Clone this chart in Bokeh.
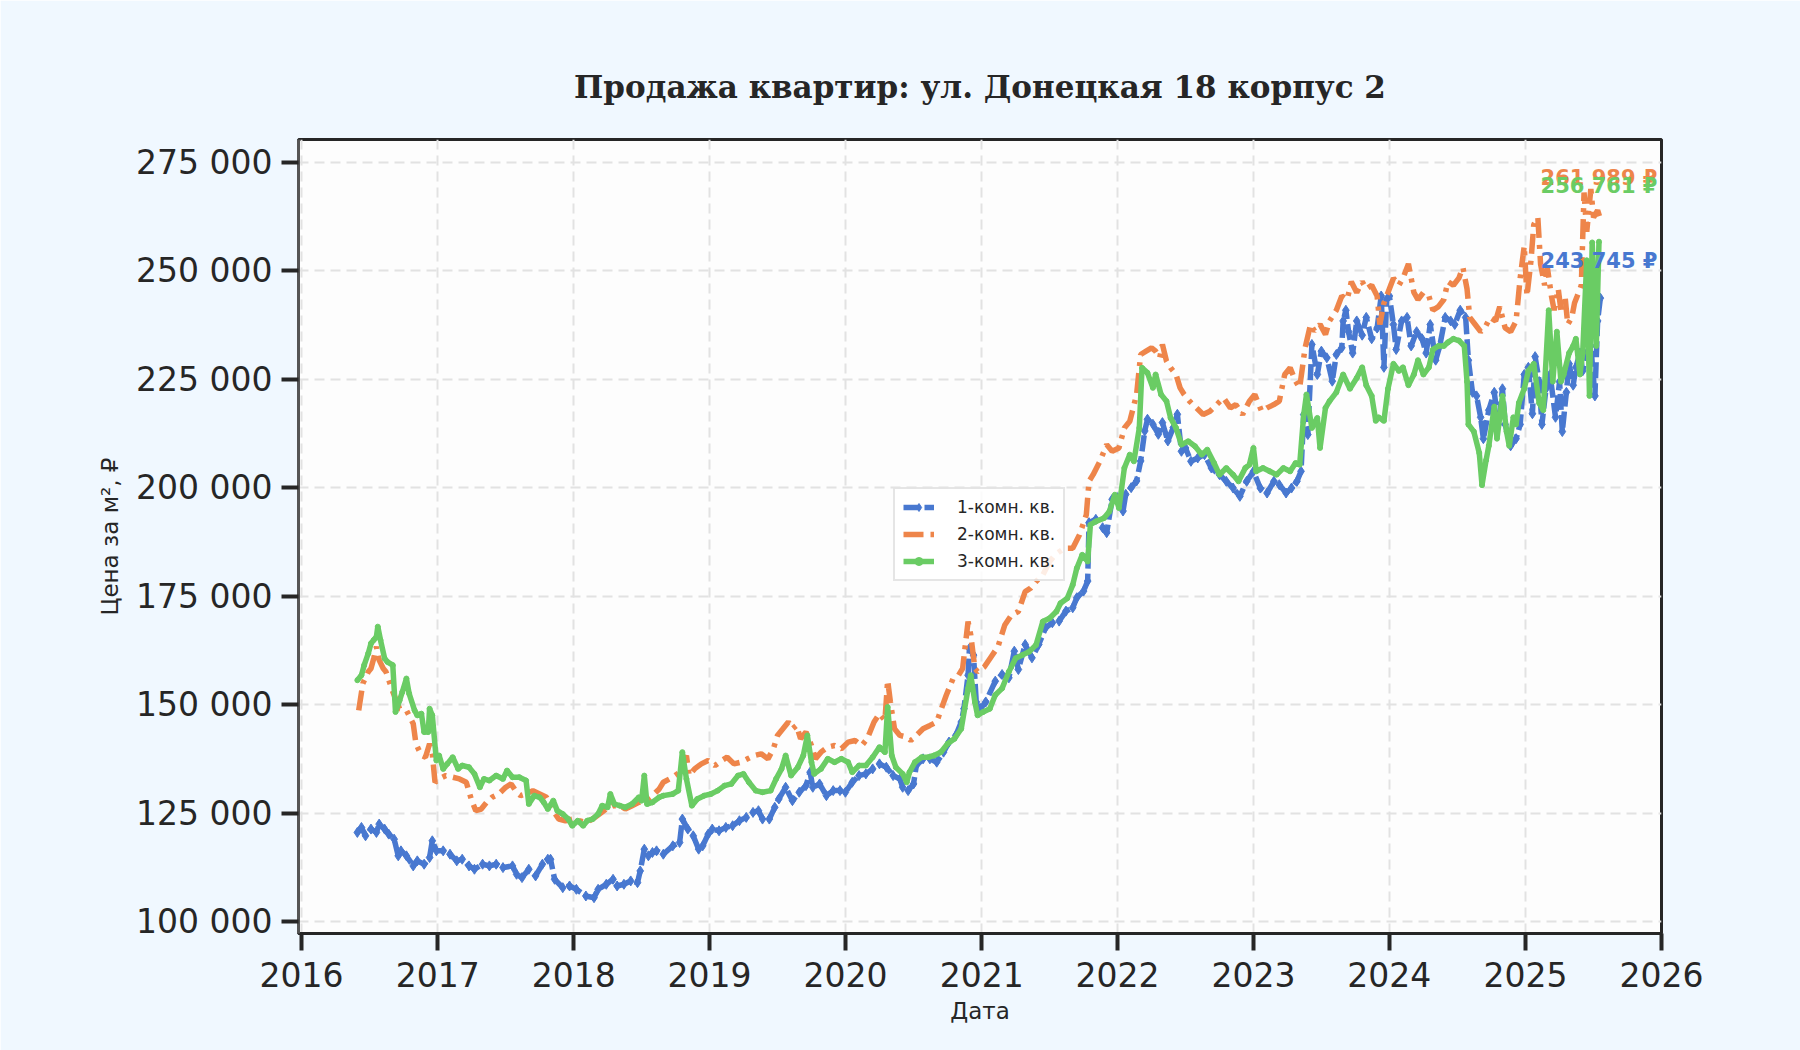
import pandas as pd
from bokeh.plotting import figure
from bokeh.models import (FixedTicker, Range1d, Legend, LegendItem, Label,
                          DatetimeTickFormatter)
from bokeh.embed import file_html
from bokeh.resources import INLINE

# ---------------- data (decimal year, price per m2) ----------------
series_names = ["1-комн. кв.", "2-комн. кв.", "3-комн. кв."]
series_colors = ["#4878D0", "#EE854A", "#6ACC64"]

years_1 = [
    2016.41, 2016.44, 2016.47, 2016.51, 2016.55, 2016.57, 2016.61, 2016.64, 2016.68, 2016.71,
    2016.73, 2016.77, 2016.82, 2016.85, 2016.90, 2016.94, 2016.96, 2016.99, 2017.04, 2017.09,
    2017.14, 2017.18, 2017.23, 2017.27, 2017.33, 2017.38, 2017.43, 2017.48, 2017.55, 2017.58,
    2017.62, 2017.67, 2017.72, 2017.77, 2017.81, 2017.83, 2017.86, 2017.92, 2017.97, 2018.02,
    2018.09, 2018.15, 2018.18, 2018.24, 2018.29, 2018.32, 2018.37, 2018.42, 2018.47, 2018.49,
    2018.52, 2018.55, 2018.58, 2018.61, 2018.66, 2018.73, 2018.78, 2018.80, 2018.84, 2018.88,
    2018.92, 2018.95, 2018.99, 2019.02, 2019.07, 2019.12, 2019.17, 2019.22, 2019.27, 2019.32,
    2019.36, 2019.39, 2019.44, 2019.48, 2019.51, 2019.56, 2019.61, 2019.66, 2019.71, 2019.74,
    2019.76, 2019.81, 2019.86, 2019.91, 2019.96, 2020.00, 2020.05, 2020.10, 2020.15, 2020.20,
    2020.25, 2020.30, 2020.35, 2020.40, 2020.42, 2020.46, 2020.50, 2020.52, 2020.57, 2020.62,
    2020.67, 2020.72, 2020.76, 2020.81, 2020.85, 2020.87, 2020.90, 2020.91, 2020.94, 2020.96,
    2020.99, 2021.03, 2021.10, 2021.15, 2021.20, 2021.24, 2021.27, 2021.32, 2021.37, 2021.42,
    2021.47, 2021.52, 2021.57, 2021.62, 2021.67, 2021.70, 2021.75, 2021.78, 2021.79, 2021.84,
    2021.89, 2021.92, 2021.96, 2022.00, 2022.04, 2022.06, 2022.10, 2022.14, 2022.17, 2022.20,
    2022.22, 2022.26, 2022.30, 2022.33, 2022.37, 2022.41, 2022.44, 2022.47, 2022.50, 2022.54,
    2022.59, 2022.64, 2022.69, 2022.75, 2022.80, 2022.85, 2022.90, 2022.95, 2023.00, 2023.05,
    2023.10, 2023.15, 2023.19, 2023.24, 2023.28, 2023.32, 2023.35, 2023.37, 2023.40, 2023.43,
    2023.47, 2023.50, 2023.54, 2023.58, 2023.61, 2023.65, 2023.66, 2023.68, 2023.70, 2023.73,
    2023.76, 2023.80, 2023.83, 2023.87, 2023.91, 2023.94, 2023.96, 2023.98, 2024.00, 2024.03,
    2024.05, 2024.09, 2024.13, 2024.16, 2024.20, 2024.24, 2024.27, 2024.30, 2024.34, 2024.37,
    2024.41, 2024.45, 2024.48, 2024.52, 2024.56, 2024.58, 2024.61, 2024.64, 2024.67, 2024.69,
    2024.73, 2024.77, 2024.80, 2024.83, 2024.85, 2024.89, 2024.93, 2024.96, 2024.99, 2025.02,
    2025.05, 2025.07, 2025.10, 2025.12, 2025.15, 2025.18, 2025.22, 2025.25, 2025.27, 2025.30,
    2025.32, 2025.35, 2025.37, 2025.40, 2025.42, 2025.45, 2025.48, 2025.51, 2025.53, 2025.55,
]
values_1 = [
    120525, 121680, 119750, 121300, 120525, 122450, 121300, 120140, 118980, 115130,
    116280, 115130, 112810, 113970, 113200, 114740, 118600, 116280, 116280, 115510,
    113970, 114350, 112810, 112040, 113200, 112810, 113200, 112420, 112810, 110880,
    110110, 112040, 110500, 113200, 114350, 114350, 109720, 107790, 108180, 107410,
    105870, 105480, 107410, 108570, 109720, 108180, 108570, 109340, 108950, 111650,
    116670, 115130, 115900, 116280, 115510, 117440, 118210, 123610, 121300, 119750,
    116670, 117440, 120140, 121300, 120910, 121690, 122070, 123230, 124000, 125150,
    125540, 123610, 123610, 126320, 128250, 130940, 127860, 129790, 131320, 134420,
    130940, 131710, 129010, 130170, 130170, 129790, 132100, 133640, 134030, 135180,
    136340, 135570, 133640, 132870, 130940, 130170, 131710, 135960, 137500, 137500,
    136730, 139040, 141360, 142900, 145990, 149070, 156790, 162960, 161420, 150620,
    149070, 150620, 155410, 156950, 156180, 162330, 158100, 163870, 160790, 163870,
    167720, 168870, 169260, 171570, 172340, 174650, 176190, 178500, 191960, 192730,
    190800, 189650, 197340, 197730, 194650, 198500, 200040, 201580, 206190, 213110,
    215810, 214650, 212340, 215040, 210810, 213880, 216960, 208420, 209190, 206110,
    206880, 207650, 204570, 203030, 201490, 199950, 198030, 201490, 203800, 199950,
    198800, 201490, 200720, 198800, 199950, 201490, 203800, 216890, 212270, 233060,
    226130, 231520, 229980, 224590, 230750, 232290, 238480, 240950, 236010, 231070,
    238480, 235190, 239300, 234370, 236840, 244240, 227780, 243420, 244240, 237660,
    231900, 238480, 239300, 232720, 236010, 234370, 231070, 237660, 229430, 232720,
    239300, 238480, 237660, 240950, 239300, 229430, 222020, 221200, 216260, 211330,
    217910, 222020, 214620, 222840, 214620, 209680, 211330, 214620, 226130, 227780,
    217080, 230250, 224490, 214620, 222840, 226130, 216260, 224490, 212970, 222020,
    228600, 223660, 227780, 231070, 226960, 231070, 232720, 221200, 238480, 243745,
]

years_2 = [
    2016.42, 2016.45, 2016.49, 2016.51, 2016.53, 2016.55, 2016.57, 2016.60, 2016.62, 2016.67,
    2016.72, 2016.77, 2016.82, 2016.84, 2016.88, 2016.91, 2016.94, 2016.96, 2016.98, 2017.01,
    2017.06, 2017.11, 2017.16, 2017.21, 2017.25, 2017.28, 2017.32, 2017.36, 2017.40, 2017.45,
    2017.50, 2017.54, 2017.58, 2017.61, 2017.65, 2017.70, 2017.75, 2017.80, 2017.85, 2017.89,
    2017.94, 2017.99, 2018.04, 2018.09, 2018.14, 2018.19, 2018.24, 2018.29, 2018.34, 2018.38,
    2018.43, 2018.48, 2018.53, 2018.58, 2018.63, 2018.66, 2018.73, 2018.78, 2018.83, 2018.85,
    2018.89, 2018.94, 2018.99, 2019.04, 2019.09, 2019.13, 2019.18, 2019.23, 2019.28, 2019.33,
    2019.38, 2019.43, 2019.47, 2019.50, 2019.54, 2019.58, 2019.61, 2019.64, 2019.67, 2019.71,
    2019.75, 2019.78, 2019.82, 2019.87, 2019.92, 2019.97, 2020.02, 2020.07, 2020.12, 2020.16,
    2020.21, 2020.25, 2020.29, 2020.31, 2020.33, 2020.36, 2020.40, 2020.45, 2020.48, 2020.52,
    2020.57, 2020.62, 2020.67, 2020.70, 2020.74, 2020.79, 2020.83, 2020.86, 2020.90, 2020.92,
    2020.95, 2020.97, 2021.02, 2021.07, 2021.12, 2021.17, 2021.22, 2021.27, 2021.32, 2021.36,
    2021.40, 2021.45, 2021.50, 2021.54, 2021.61, 2021.67, 2021.72, 2021.77, 2021.79, 2021.82,
    2021.87, 2021.92, 2021.96, 2022.01, 2022.05, 2022.09, 2022.14, 2022.17, 2022.21, 2022.25,
    2022.28, 2022.31, 2022.33, 2022.36, 2022.39, 2022.43, 2022.46, 2022.49, 2022.53, 2022.58,
    2022.63, 2022.68, 2022.73, 2022.78, 2022.83, 2022.87, 2022.92, 2022.97, 2023.01, 2023.06,
    2023.10, 2023.15, 2023.19, 2023.23, 2023.27, 2023.31, 2023.34, 2023.38, 2023.42, 2023.45,
    2023.49, 2023.53, 2023.56, 2023.61, 2023.65, 2023.69, 2023.72, 2023.76, 2023.80, 2023.83,
    2023.87, 2023.91, 2023.93, 2023.96, 2023.99, 2024.03, 2024.07, 2024.10, 2024.14, 2024.18,
    2024.21, 2024.25, 2024.29, 2024.32, 2024.36, 2024.40, 2024.43, 2024.47, 2024.51, 2024.54,
    2024.57, 2024.59, 2024.63, 2024.67, 2024.70, 2024.74, 2024.78, 2024.81, 2024.85, 2024.89,
    2024.93, 2024.96, 2024.99, 2025.01, 2025.04, 2025.06, 2025.09, 2025.11, 2025.14, 2025.16,
    2025.19, 2025.21, 2025.24, 2025.26, 2025.29, 2025.31, 2025.34, 2025.36, 2025.38, 2025.41,
    2025.43, 2025.45, 2025.48, 2025.50, 2025.53, 2025.55,
]
values_2 = [
    148690, 154860, 157560, 158330, 160650, 163350, 160260, 158330, 157560, 153000,
    149070, 148690, 145600, 140970, 138270, 137880, 140970, 138660, 132100, 132870,
    133640, 133260, 132870, 132100, 127860, 125540, 125930, 127470, 128630, 129400,
    130940, 131710, 129780, 129010, 129400, 130170, 129400, 128630, 125540, 123610,
    123230, 123610, 123230, 122840, 123610, 124770, 125930, 126700, 126700, 125930,
    126700, 127470, 127860, 129010, 130560, 132100, 133260, 134420, 138270, 133640,
    135180, 136340, 137110, 135960, 137110, 137880, 136340, 136730, 137500, 138270,
    138660, 137500, 139810, 142900, 144440, 145990, 144440, 145210, 142130, 143670,
    140580, 137500, 139040, 140200, 140580, 139810, 141360, 141740, 140580, 142130,
    145990, 147920, 146370, 155630, 150620, 144440, 142900, 142520, 141740, 142900,
    144440, 145210, 145990, 148690, 152160, 156020, 156790, 158330, 169140, 166050,
    158330, 157560, 158720, 161060, 163370, 168370, 170690, 171460, 176080, 176850,
    178390, 179930, 183010, 184550, 186090, 186090, 189170, 193790, 201510, 203030,
    206110, 209960, 208420, 209190, 213810, 215350, 221510, 230750, 231520, 232290,
    231520, 229980, 233060, 229210, 227670, 226130, 223050, 221510, 219970, 218430,
    216890, 217660, 219200, 220740, 218430, 219200, 216890, 219970, 221510, 217660,
    218430, 219200, 219970, 226130, 227670, 224590, 223050, 232290, 237680, 236140,
    237680, 235370, 238480, 240950, 244240, 243420, 247530, 245060, 247530, 245880,
    246710, 244240, 237660, 242600, 245060, 248350, 246710, 248350, 251640, 245060,
    243420, 245060, 244240, 240950, 241780, 243420, 247530, 246710, 248350, 250820,
    245880, 239300, 237660, 236010, 236840, 239300, 238480, 241780, 236840, 236010,
    238480, 248350, 255760, 244240, 252470, 260700, 262340, 251640, 246710, 250820,
    244240, 240950, 245880, 240950, 244240, 237660, 239300, 242600, 244240, 246710,
    268110, 259050, 268930, 262340, 263990, 261989,
]

years_3 = [
    2016.41, 2016.44, 2016.46, 2016.49, 2016.51, 2016.53, 2016.55, 2016.56, 2016.58, 2016.61,
    2016.63, 2016.67, 2016.69, 2016.72, 2016.74, 2016.77, 2016.79, 2016.83, 2016.85, 2016.88,
    2016.90, 2016.93, 2016.94, 2016.96, 2016.99, 2017.01, 2017.04, 2017.07, 2017.11, 2017.15,
    2017.18, 2017.23, 2017.27, 2017.31, 2017.34, 2017.38, 2017.43, 2017.48, 2017.51, 2017.55,
    2017.60, 2017.65, 2017.67, 2017.71, 2017.75, 2017.78, 2017.81, 2017.85, 2017.88, 2017.92,
    2017.96, 2017.99, 2018.03, 2018.07, 2018.10, 2018.14, 2018.18, 2018.21, 2018.25, 2018.27,
    2018.30, 2018.34, 2018.38, 2018.43, 2018.48, 2018.50, 2018.52, 2018.54, 2018.58, 2018.63,
    2018.66, 2018.73, 2018.77, 2018.80, 2018.83, 2018.87, 2018.91, 2018.96, 2019.01, 2019.06,
    2019.11, 2019.16, 2019.21, 2019.25, 2019.29, 2019.34, 2019.39, 2019.45, 2019.49, 2019.53,
    2019.56, 2019.60, 2019.65, 2019.69, 2019.72, 2019.75, 2019.77, 2019.82, 2019.87, 2019.92,
    2019.97, 2020.02, 2020.05, 2020.10, 2020.15, 2020.20, 2020.25, 2020.29, 2020.31, 2020.34,
    2020.37, 2020.42, 2020.45, 2020.47, 2020.51, 2020.56, 2020.61, 2020.65, 2020.70, 2020.75,
    2020.80, 2020.85, 2020.90, 2020.92, 2020.95, 2020.97, 2021.01, 2021.06, 2021.10, 2021.15,
    2021.20, 2021.25, 2021.30, 2021.35, 2021.40, 2021.45, 2021.50, 2021.55, 2021.58, 2021.63,
    2021.67, 2021.70, 2021.74, 2021.78, 2021.80, 2021.84, 2021.90, 2021.94, 2021.98, 2022.01,
    2022.05, 2022.09, 2022.12, 2022.16, 2022.18, 2022.22, 2022.26, 2022.28, 2022.32, 2022.36,
    2022.39, 2022.43, 2022.47, 2022.52, 2022.57, 2022.62, 2022.66, 2022.71, 2022.75, 2022.80,
    2022.85, 2022.89, 2022.94, 2022.97, 2023.00, 2023.02, 2023.07, 2023.12, 2023.17, 2023.22,
    2023.27, 2023.31, 2023.34, 2023.37, 2023.39, 2023.43, 2023.47, 2023.49, 2023.53, 2023.56,
    2023.61, 2023.66, 2023.71, 2023.76, 2023.80, 2023.83, 2023.87, 2023.90, 2023.92, 2023.96,
    2023.99, 2024.03, 2024.07, 2024.10, 2024.14, 2024.18, 2024.21, 2024.25, 2024.29, 2024.32,
    2024.36, 2024.40, 2024.43, 2024.47, 2024.51, 2024.55, 2024.57, 2024.58, 2024.62, 2024.66,
    2024.68, 2024.71, 2024.73, 2024.77, 2024.79, 2024.83, 2024.86, 2024.88, 2024.91, 2024.93,
    2024.95, 2024.99, 2025.02, 2025.06, 2025.10, 2025.13, 2025.17, 2025.20, 2025.23, 2025.26,
    2025.28, 2025.32, 2025.35, 2025.37, 2025.40, 2025.42, 2025.45, 2025.47, 2025.49, 2025.52,
    2025.54,
]
values_3 = [
    155630, 156790, 159100, 161810, 164120, 164890, 165660, 167980, 164890, 160650,
    159880, 159100, 148300, 151000, 152930, 156020, 152550, 148690, 147530, 147920,
    143670, 143670, 149070, 147530, 137110, 138270, 135180, 136340, 137880, 135180,
    135960, 135570, 134030, 130940, 132870, 132490, 133640, 132870, 134800, 133260,
    133260, 132490, 127080, 129010, 128630, 127470, 125930, 127860, 125540, 124770,
    123610, 122070, 123230, 122070, 123230, 123610, 124770, 126700, 126320, 129400,
    127080, 126700, 126320, 127080, 128630, 127860, 133640, 127080, 127470, 128630,
    129010, 129400, 130170, 139040, 132870, 126700, 128250, 129010, 129400, 130170,
    131320, 131710, 133640, 134030, 132100, 130170, 129790, 130170, 132870, 135180,
    138270, 133640, 135570, 138270, 142900, 136730, 134030, 135180, 137500, 136730,
    137500, 136730, 134420, 135960, 135960, 137880, 140200, 139040, 149460, 138270,
    135570, 134030, 132100, 134420, 136730, 137880, 137880, 138270, 139040, 140970,
    142130, 144440, 153710, 156790, 150620, 147530, 148300, 149070, 152210, 153750,
    157600, 160680, 161450, 162220, 163760, 169150, 169920, 171460, 173380, 174540,
    177620, 181470, 184550, 183010, 191480, 192250, 193020, 194560, 198410, 195330,
    204570, 207650, 206110, 213810, 227670, 226510, 223050, 226130, 221510, 219970,
    216120, 213810, 209960, 210730, 209570, 207650, 208800, 205720, 203030, 204570,
    203030, 201490, 204570, 205340, 209190, 203800, 204570, 203800, 203030, 204570,
    203800, 205720, 205340, 216890, 221510, 213810, 216120, 209190, 218430, 220000,
    222020, 226130, 222840, 225310, 227780, 223660, 221200, 215440, 216260, 215440,
    222840, 228600, 226960, 227780, 223660, 226130, 229430, 226130, 227780, 231900,
    232720, 232720, 233550, 234370, 233960, 232720, 224490, 214620, 212970, 208030,
    200620, 206380, 209680, 218730, 211330, 221200, 212970, 209680, 216260, 214620,
    219550, 222840, 226960, 228600, 219550, 217910, 240950, 224490, 236010, 224490,
    226130, 231070, 232720, 234370, 226130, 231070, 252470, 221200, 256580, 232720,
    256761,
]

y_ticks = [100000, 125000, 150000, 175000, 200000, 225000, 250000, 275000]
y_tick_labels = ["100 000", "125 000", "150 000", "175 000", "200 000", "225 000", "250 000", "275 000"]
x_tick_years = [2016, 2017, 2018, 2019, 2020, 2021, 2022, 2023, 2024, 2025, 2026]

# end-label placement (annotation text, in data units)
end_label_year = 2025.97
end_label_values = [252300, 271500, 269700]


def to_dt(ys):
    out = []
    for y in ys:
        yr = int(y)
        a = pd.Timestamp(year=yr, month=1, day=1)
        b = pd.Timestamp(year=yr + 1, month=1, day=1)
        out.append(a + (b - a) * (y - yr))
    return out


def to_ms(y):
    return to_dt([y])[0].value / 1e6


FONT = "DejaVu Sans"
DARK = "#262626"

p = figure(width=1800, height=1050, x_axis_type="datetime",
           output_backend="svg", toolbar_location=None,
           x_range=Range1d(to_ms(2015.978), to_ms(2026.0)),
           y_range=Range1d(97222, 280324),
           background_fill_color="#FDFDFD", border_fill_color="#F0F8FF",
           min_border_left=298, min_border_right=139,
           min_border_top=139, min_border_bottom=117)

p.title.text = "Продажа квартир: ул. Донецкая 18 корпус 2"
p.title.text_font = "DejaVu Serif"
p.title.text_font_style = "bold"
p.title.text_font_size = "31px"
p.title.text_color = DARK
p.title.align = "center"
p.title.standoff = 70

p.outline_line_color = DARK
p.outline_line_width = 3

# grids
for g in (p.xgrid, p.ygrid):
    g.grid_line_color = "#e2e2e2"
    g.grid_line_width = 2
    g.grid_line_dash = "10 6"

# axes
p.xaxis.ticker = FixedTicker(ticks=[to_ms(y) for y in x_tick_years])
p.xaxis.formatter = DatetimeTickFormatter(years="%Y", months="%Y", days="%Y")
p.yaxis.ticker = FixedTicker(ticks=y_ticks)
p.yaxis.major_label_overrides = {t: l for t, l in zip(y_ticks, y_tick_labels)}

for ax in (p.xaxis[0], p.yaxis[0]):
    ax.major_label_text_font = FONT
    ax.major_label_text_font_size = "33px"
    ax.major_label_text_color = DARK
    ax.major_tick_out = 17
    ax.major_tick_in = 0
    ax.major_tick_line_width = 4
    ax.major_tick_line_color = DARK
    ax.minor_tick_line_color = None
    ax.axis_line_width = 3
    ax.axis_label_text_font = FONT
    ax.axis_label_text_font_size = "23px"
    ax.axis_label_text_font_style = "normal"
    ax.axis_label_text_color = DARK

p.xaxis.axis_line_color = DARK
p.yaxis.axis_line_color = "#555555"
p.xaxis.axis_label = "Дата"
p.yaxis.axis_label = "Цена за м², ₽"
p.xaxis.major_label_standoff = 11
p.yaxis.major_label_standoff = 9
p.xaxis.axis_label_standoff = 8
p.yaxis.axis_label_standoff = 10

# series
x1, x2, x3 = to_dt(years_1), to_dt(years_2), to_dt(years_3)

LW = 5.5
l1 = p.line(x1, values_1, line_color=series_colors[0], line_width=LW, line_dash="16 5")
m1 = p.scatter(x1, values_1, marker="diamond", size=10, fill_color=series_colors[0],
               line_color=series_colors[0])
l2 = p.line(x2, values_2, line_color=series_colors[1], line_width=LW, line_dash="20 7 4 7")
l3 = p.line(x3, values_3, line_color=series_colors[2], line_width=LW)
m3 = p.scatter(x3, values_3, marker="circle", size=5, fill_color=series_colors[2],
               line_color=series_colors[2])

legend = Legend(items=[
    LegendItem(label=series_names[0], renderers=[l1, m1]),
    LegendItem(label=series_names[1], renderers=[l2]),
    LegendItem(label=series_names[2], renderers=[l3, m3]),
], location=(595, 352))
legend.label_text_font = FONT
legend.label_text_font_size = "17px"
legend.label_text_color = DARK
legend.glyph_width = 31
legend.glyph_height = 20
legend.label_height = 20
legend.label_standoff = 23
legend.spacing = 7
legend.padding = 8
legend.margin = 0
legend.border_line_color = "#cccccc"
legend.border_line_width = 2
legend.background_fill_color = "white"
legend.background_fill_alpha = 0.85
p.add_layout(legend)

# end labels with last values
last_values = [values_1[-1], values_2[-1], values_3[-1]]
for v, ly, c in zip(last_values, end_label_values, series_colors):
    txt = f"{v:,.0f}".replace(",", " ") + " ₽"
    p.add_layout(Label(x=to_ms(end_label_year), y=ly, text=txt,
                       text_align="right", text_baseline="middle",
                       text_font=FONT, text_font_style="bold",
                       text_font_size="21px", text_color=c))

open("out.html", "w").write(file_html(p, INLINE))
